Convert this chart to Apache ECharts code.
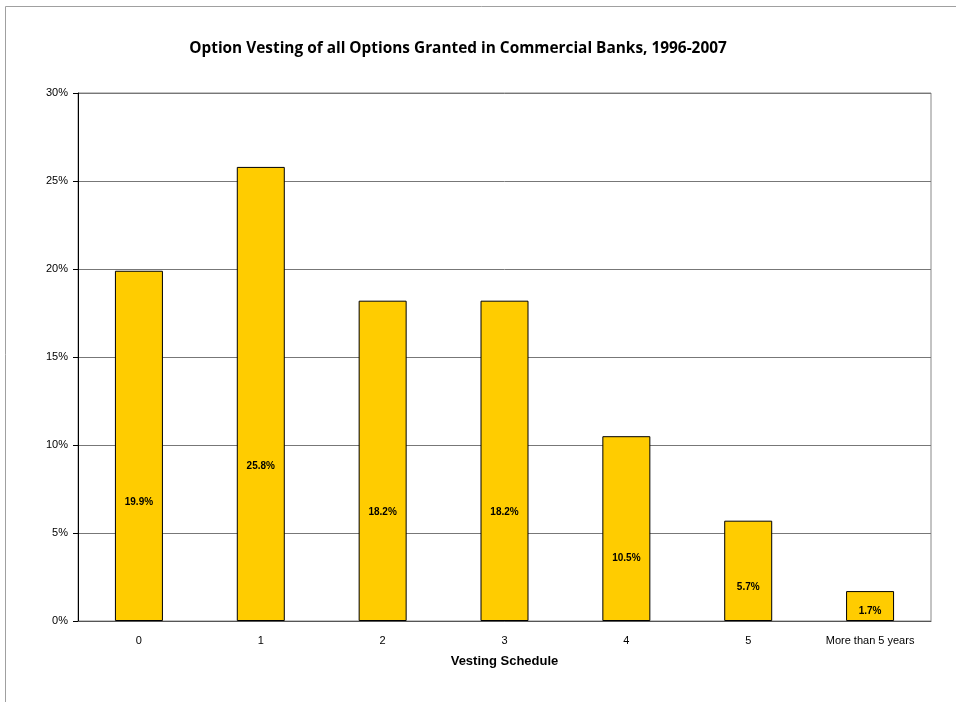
<!DOCTYPE html>
<html>
<head>
<meta charset="utf-8">
<script src="https://cdn.jsdelivr.net/npm/echarts@6/dist/echarts.min.js"></script>
<style>
  html, body { margin: 0; padding: 0; background: #fff; }
  #chart { width: 956px; height: 702px; }
</style>
</head>
<body>
<div id="chart"></div>
<script>
var categories = ['0', '1', '2', '3', '4', '5', 'More than 5 years'];
var shares = [19.9, 25.8, 18.2, 18.2, 10.5, 5.7, 1.7];
var yTicks = [0, 5, 10, 15, 20, 25, 30];

var option = {
  animation: false,
  title: {
    text: 'Option Vesting of all Options Granted in Commercial Banks, 1996-2007',
    left: 453,
    textAlign: 'center',
    top: 36,
    textStyle: { fontFamily: 'Open Sans', fontWeight: 'bold', fontSize: 15.4, color: '#000' }
  },
  graphic: [{
    type: 'rect',
    shape: { x: 5.5, y: 6.5, width: 1000, height: 1000 },
    style: { fill: 'none', stroke: '#a0a0a0', lineWidth: 1 }
  }],
  grid: {
    left: 78, right: 25, top: 93, bottom: 81,
    show: true, borderColor: '#888', borderWidth: 1
  },
  xAxis: {
    type: 'category',
    data: categories,
    name: 'Vesting Schedule',
    nameLocation: 'middle',
    nameGap: 34,
    nameTextStyle: { fontFamily: 'Liberation Sans', fontWeight: 'bold', fontSize: 13, color: '#000' },
    axisLine: { lineStyle: { color: '#555' } },
    axisTick: { length: 5, lineStyle: { color: '#555' } },
    axisLabel: { fontFamily: 'Liberation Sans', fontSize: 11, color: '#000', margin: 14 }
  },
  yAxis: {
    type: 'value',
    min: yTicks[0],
    max: yTicks[yTicks.length - 1],
    interval: 5,
    axisLine: { show: true, lineStyle: { color: '#000' } },
    axisTick: { show: true, length: 5, lineStyle: { color: '#000' } },
    axisLabel: { formatter: '{value}%', fontFamily: 'Liberation Sans', fontSize: 11, color: '#000', margin: 10 },
    splitLine: { lineStyle: { color: '#777' } }
  },
  series: [{
    type: 'bar',
    data: shares,
    barWidth: 48,
    itemStyle: { color: '#FFCC00', borderColor: '#000', borderWidth: 1 },
    label: {
      show: true,
      position: ['50%', '66%'],
      align: 'center',
      verticalAlign: 'middle',
      formatter: function (p) { return p.value.toFixed(1) + '%'; },
      fontFamily: 'Liberation Sans',
      fontWeight: 'bold',
      fontSize: 10,
      color: '#000'
    }
  }]
};

var myChart = echarts.init(document.getElementById('chart'));
myChart.setOption(option);
</script>
</body>
</html>
